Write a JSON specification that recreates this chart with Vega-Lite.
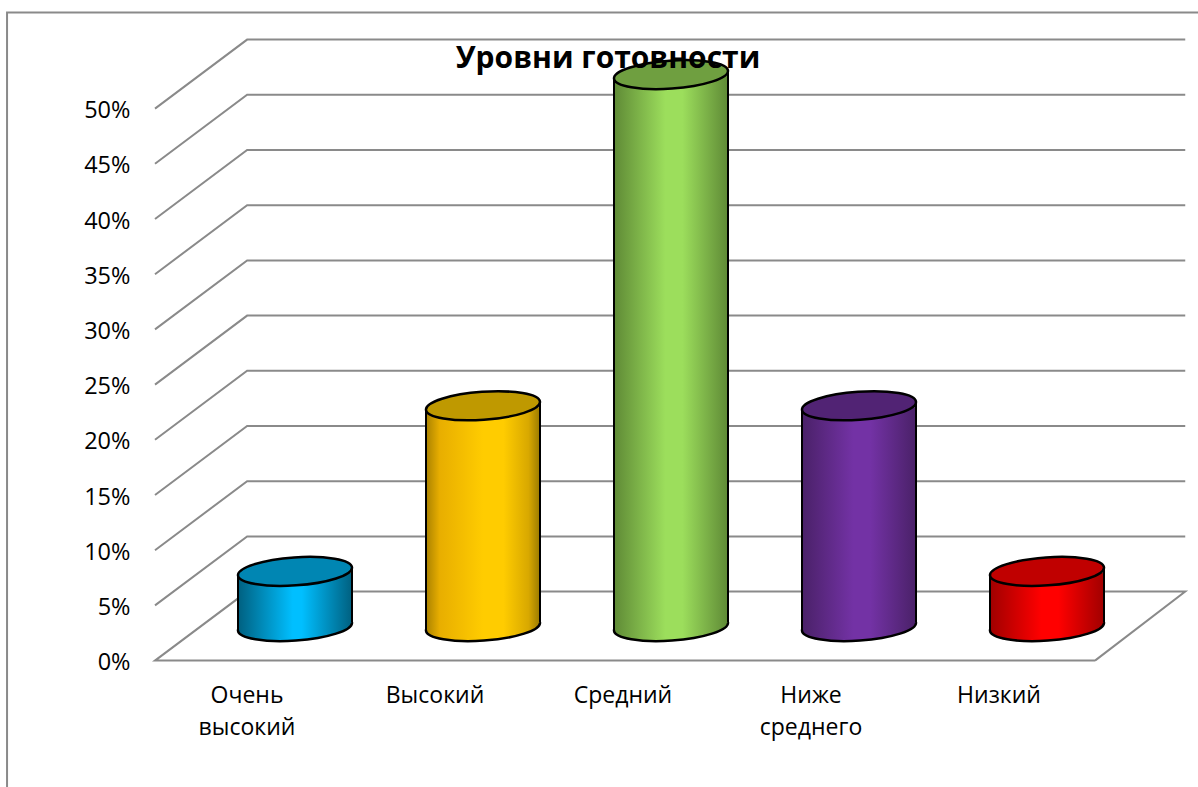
{
"$schema":"https://vega.github.io/schema/vega-lite/v6.json",
"width":940,"height":552,
"autosize":{"type":"none"},
"padding":{"left":155,"top":108.6,"right":103,"bottom":126.4},
"background":"white",
"config":{"view":{"stroke":null},"font":"Lato"},
"title":{"text":"Уровни готовности","font":"Open Sans","fontSize":30,"fontWeight":"bold","color":"black","anchor":"middle","dx":-17,"offset":-65},
"datasets":{
"bars":[
{"level":"Очень высокий","share":5},
{"level":"Высокий","share":20},
{"level":"Средний","share":50},
{"level":"Ниже среднего","share":20},
{"level":"Низкий","share":5}
],
"frame":[
{"line":"border","i":0,"u":-15.74,"p":-11.5},{"line":"border","i":1,"u":-15.74,"p":58.7},{"line":"border","i":2,"u":110.96,"p":58.7},
{"line":"floor","i":0,"u":100,"p":0},{"line":"floor","i":1,"u":0,"p":0},{"line":"floor","i":2,"u":9.8,"p":6.25},{"line":"floor","i":3,"u":109.6,"p":6.25},{"line":"floor","i":4,"u":100,"p":0},
{"line":"g5","i":0,"u":0,"p":5},{"line":"g5","i":1,"u":9.8,"p":11.25},{"line":"g5","i":2,"u":109.6,"p":11.25},
{"line":"g10","i":0,"u":0,"p":10},{"line":"g10","i":1,"u":9.8,"p":16.25},{"line":"g10","i":2,"u":109.6,"p":16.25},
{"line":"g15","i":0,"u":0,"p":15},{"line":"g15","i":1,"u":9.8,"p":21.25},{"line":"g15","i":2,"u":109.6,"p":21.25},
{"line":"g20","i":0,"u":0,"p":20},{"line":"g20","i":1,"u":9.8,"p":26.25},{"line":"g20","i":2,"u":109.6,"p":26.25},
{"line":"g25","i":0,"u":0,"p":25},{"line":"g25","i":1,"u":9.8,"p":31.25},{"line":"g25","i":2,"u":109.6,"p":31.25},
{"line":"g30","i":0,"u":0,"p":30},{"line":"g30","i":1,"u":9.8,"p":36.25},{"line":"g30","i":2,"u":109.6,"p":36.25},
{"line":"g35","i":0,"u":0,"p":35},{"line":"g35","i":1,"u":9.8,"p":41.25},{"line":"g35","i":2,"u":109.6,"p":41.25},
{"line":"g40","i":0,"u":0,"p":40},{"line":"g40","i":1,"u":9.8,"p":46.25},{"line":"g40","i":2,"u":109.6,"p":46.25},
{"line":"g45","i":0,"u":0,"p":45},{"line":"g45","i":1,"u":9.8,"p":51.25},{"line":"g45","i":2,"u":109.6,"p":51.25},
{"line":"g50","i":0,"u":0,"p":50},{"line":"g50","i":1,"u":9.8,"p":56.25},{"line":"g50","i":2,"u":109.6,"p":56.25}
]},
"resolve":{"scale":{"x":"independent"}},
"layer":[
{"data":{"name":"frame"},
 "mark":{"type":"line","color":"#8a8a8a","strokeWidth":2,"clip":false,"interpolate":"linear"},
 "encoding":{
  "x":{"field":"u","type":"quantitative","scale":{"domain":[0,100],"nice":false,"zero":false},"axis":null},
  "y":{"field":"p","type":"quantitative","title":null,"scale":{"domain":[0,50],"nice":false,"zero":false},"axis":{"values":[0,5,10,15,20,25,30,35,40,45,50],"title":null,"domain":false,"ticks":false,"grid":false,"labelExpr":"datum.value+'%'","labelFont":"Open Sans","labelFontSize":23.5,"labelColor":"black","labelPadding":25,"labelOffset":2}},
  "detail":{"field":"line"},
  "order":{"field":"i","type":"quantitative"}
 }},
{"data":{"name":"bars"},
 "encoding":{
  "x":{"field":"level","type":"nominal","sort":null,"scale":{"paddingInner":0,"paddingOuter":0},"axis":{"title":null,"domain":false,"ticks":false,"grid":false,"labelAngle":0,"labelExpr":"split(datum.label,' ')","labelFont":"Open Sans","labelFontSize":23,"labelColor":"black","labelPadding":24,"labelOffset":-2,"labelLineHeight":32,"labelBaseline":"top"}},
  "color":{"field":"level","type":"nominal","sort":null,"legend":null,"scale":{"domain":["Очень высокий","Высокий","Средний","Ниже среднего","Низкий"],"range":[
   {"expr":"{gradient:'linear',x1:0,y1:0,x2:1,y2:0,stops:[{offset:0,color:'#006080'},{offset:0.48,color:'#00bfff'},{offset:0.56,color:'#00bfff'},{offset:1,color:'#006080'}]}"},
   {"expr":"{gradient:'linear',x1:0,y1:0,x2:1,y2:0,stops:[{offset:0,color:'#aa8200'},{offset:0.12,color:'#e8ae00'},{offset:0.5,color:'#ffcc00'},{offset:0.68,color:'#ffcc00'},{offset:0.9,color:'#d8a800'},{offset:1,color:'#9a7a00'}]}"},
   {"expr":"{gradient:'linear',x1:0,y1:0,x2:1,y2:0,stops:[{offset:0,color:'#5f8a36'},{offset:0.45,color:'#9cde5c'},{offset:0.6,color:'#9cde5c'},{offset:1,color:'#5f8a36'}]}"},
   {"expr":"{gradient:'linear',x1:0,y1:0,x2:1,y2:0,stops:[{offset:0,color:'#4a2168'},{offset:0.45,color:'#7332a5'},{offset:0.6,color:'#7332a5'},{offset:1,color:'#4a2168'}]}"},
   {"expr":"{gradient:'linear',x1:0,y1:0,x2:1,y2:0,stops:[{offset:0,color:'#a00000'},{offset:0.45,color:'#ff0000'},{offset:0.6,color:'#ff0000'},{offset:1,color:'#a00000'}]}"}
  ]}}
 },
 "layer":[
  {"mark":{"type":"point","filled":true,"opacity":1,"clip":false,"shape":"M-1,0.07A1,0.245,-4,1,1,1,-0.07A1,0.245,-4,1,1,-1,0.07Z","size":12996,"stroke":"black","strokeWidth":2.5,"xOffset":46,"yOffset":-34},
   "encoding":{"y":{"datum":0,"type":"quantitative","title":null}}},
  {"mark":{"type":"point","filled":true,"opacity":1,"clip":false,"shape":"M-1,0.07A1,0.245,-4,1,1,1,-0.07A1,0.245,-4,1,1,-1,0.07Z","size":12996,"strokeWidth":0,"xOffset":46,"yOffset":-42},
   "encoding":{"y":{"datum":0,"type":"quantitative","title":null}}},
  {"mark":{"type":"point","filled":true,"opacity":1,"clip":false,"shape":"M-1,0.07A1,0.245,-4,1,1,1,-0.07A1,0.245,-4,1,1,-1,0.07Z","size":12996,"strokeWidth":0,"xOffset":46,"yOffset":-37},
   "encoding":{"y":{"datum":0,"type":"quantitative","title":null}}},
  {"mark":{"type":"bar","clip":false,"width":{"band":0.606},"xOffset":46,"yOffset":-30,"y2Offset":-38},
   "encoding":{"y":{"field":"share","type":"quantitative","stack":null,"title":null},"y2":{"datum":0}}},
  {"mark":{"type":"point","filled":true,"opacity":1,"clip":false,"shape":"M-1,0.07A1,0.245,-4,1,1,1,-0.07A1,0.245,-4,1,1,-1,0.07Z","size":12996,"strokeWidth":0,"xOffset":46,"yOffset":-26},
   "encoding":{"y":{"field":"share","type":"quantitative","title":null}}},
  {"mark":{"type":"rule","clip":false,"color":"black","strokeWidth":2,"xOffset":-11,"yOffset":-30,"y2Offset":-30},
   "encoding":{"color":{"value":"black"},"y":{"field":"share","type":"quantitative","title":null},"y2":{"datum":0}}},
  {"mark":{"type":"rule","clip":false,"color":"black","strokeWidth":2,"xOffset":103,"yOffset":-38,"y2Offset":-38},
   "encoding":{"color":{"value":"black"},"y":{"field":"share","type":"quantitative","title":null},"y2":{"datum":0}}},
  {"mark":{"type":"point","filled":true,"opacity":1,"clip":false,"shape":"M-1,0.07A1,0.245,-4,1,1,1,-0.07A1,0.245,-4,1,1,-1,0.07Z","size":12996,"stroke":"black","strokeWidth":2.5,"xOffset":46,"yOffset":-34},
   "encoding":{"color":{"value":null},"fill":{"field":"level","type":"nominal","sort":null,"legend":null,"scale":{"domain":["Очень высокий","Высокий","Средний","Ниже среднего","Низкий"],"range":["#0086b3","#bf9900","#6f9f40","#512374","#c00000"]}},"y":{"field":"share","type":"quantitative","title":null}}}
 ]}
]}
